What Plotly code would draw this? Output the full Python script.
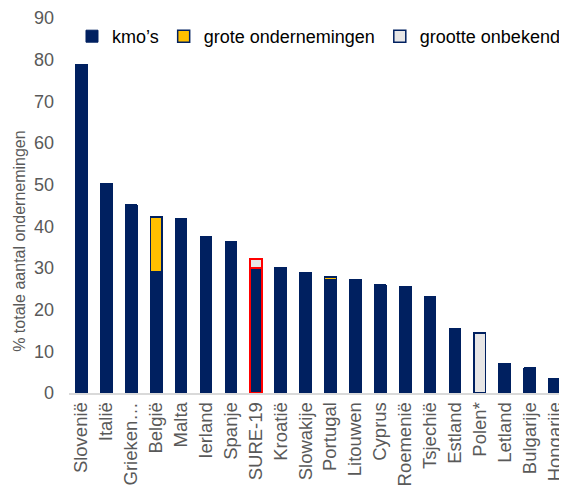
import plotly.graph_objects as go

landen = ["Slovenië", "Italië", "Grieken…", "België", "Malta", "Ierland", "Spanje",
          "SURE-19", "Kroatië", "Slowakije", "Portugal", "Litouwen", "Cyprus",
          "Roemenië", "Tsjechië", "Estland", "Polen*", "Letland", "Bulgarije", "Hongarije"]
kmo = [78.8, 50.3, 45.1, 29.0, 41.8, 37.6, 36.4, 30.1, 30.1, 28.9, 27.3, 27.3,
       25.9, 25.6, 23.0, 15.4, 0, 7.0, 6.0, 3.4]
grote = [0, 0, 0, 13.2, 0, 0, 0, 0, 0, 0, 0.6, 0, 0, 0, 0, 0, 0, 0, 0, 0]
onbekend = [0, 0, 0, 0, 0, 0, 0, 2.1, 0, 0, 0, 0, 0, 0, 0, 0, 14.4, 0, 0, 0]

navy = "#002060"
rand = [("red" if l == "SURE-19" else navy) for l in landen]
randbreedte = [(2 if l == "SURE-19" else 1) for l in landen]

fig = go.Figure()
fig.add_trace(go.Bar(x=landen, y=kmo, name="kmo’s",
                     marker=dict(color=navy, line=dict(color=rand, width=randbreedte))))
fig.add_trace(go.Bar(x=landen, y=grote, name="grote ondernemingen",
                     marker=dict(color="#FFC000", line=dict(color=navy, width=1.5))))
fig.add_trace(go.Bar(x=landen, y=onbekend, name="grootte onbekend",
                     marker=dict(color="#E7E6E6", line=dict(color=rand, width=[(2 if l == "SURE-19" else 1.5) for l in landen]))))

# de pagina heeft 8px body-marge, daarom l/t iets kleiner
fig.update_layout(
    barmode="stack",
    bargap=0.53,
    width=567, height=485,
    margin=dict(l=61, r=8, t=10, b=100),
    plot_bgcolor="white", paper_bgcolor="white",
    font=dict(family="Liberation Sans, Arial", color="#595959"),
    legend=dict(orientation="h", x=0.006, y=1.0, xanchor="left", yanchor="top",
                font=dict(size=18, color="black"), traceorder="normal",
                itemwidth=30, bgcolor="rgba(0,0,0,0)"),
    showlegend=True,
)
fig.add_annotation(text="% totale aantal ondernemingen", textangle=-90,
                   xref="paper", yref="paper", x=-0.101, y=0.405,
                   xanchor="center", yanchor="middle", showarrow=False,
                   font=dict(size=16, color="#595959"))
fig.update_xaxes(showline=True, linecolor="#D9D9D9", linewidth=1.5, tickangle=-90,
                 tickfont=dict(size=18.5, color="#595959"), range=[-0.5, 19.5],
                 automargin=False)
fig.update_yaxes(range=[0, 90], dtick=10, showgrid=False, zeroline=False,
                 tickfont=dict(size=18, color="#595959"), ticklabelstandoff=14,
                 ticklabeloverflow="allow", automargin=False)

fig.write_html("out.html")
